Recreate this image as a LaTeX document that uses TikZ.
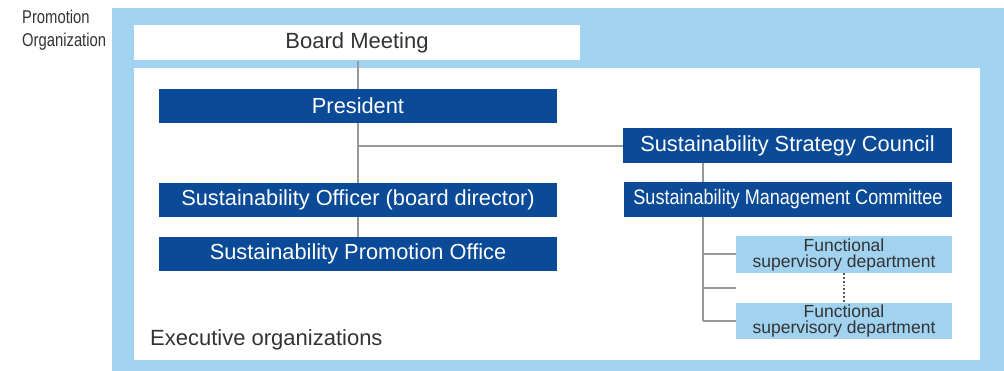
\documentclass[tikz,border=0pt]{standalone}
\usepackage{fontspec}
\setmainfont{Liberation Sans}
\newfontfamily\condfont[FakeStretch=0.86]{Liberation Sans}
\newfontfamily\narrowfont[FakeStretch=0.8]{Liberation Sans}
\definecolor{dblue}{HTML}{0A4A96}
\definecolor{lblue}{HTML}{A1D2F0}
\definecolor{lgray}{HTML}{999999}
\definecolor{tgray}{HTML}{333333}
\begin{document}
\begin{tikzpicture}[x=1pt,y=-1pt,
  darkbox/.style={fill=dblue,text=white,inner sep=0pt,font=\fontsize{21.8}{24}\selectfont},
  lightbox/.style={fill=lblue,text=tgray,inner sep=0pt,align=center,font=\fontsize{17.5}{16}\selectfont},
  conn/.style={draw=lgray,line width=2pt}]
\useasboundingbox (0,0) rectangle (1004,371);
\fill[lblue] (112,8) rectangle (1004,371);
\fill[white] (134,68) rectangle (980,360);
\node[fill=white,text=tgray,inner sep=0pt,minimum width=446pt,minimum height=35pt,font=\fontsize{22}{24}\selectfont] (board) at (357,43) {Board Meeting};
\node[darkbox,minimum width=398pt,minimum height=34pt] (pres) at (358,106) {President};
\node[darkbox,minimum width=398pt,minimum height=34pt] (officer) at (358,200) {Sustainability Officer (board director)};
\node[darkbox,minimum width=398pt,minimum height=34pt] (office) at (358,254) {Sustainability Promotion Office};
\node[darkbox,minimum width=329pt,minimum height=35pt] (council) at (787.5,145.5) {Sustainability Strategy Council};
\node[darkbox,minimum width=328pt,minimum height=35pt,font=\condfont\fontsize{21}{24}\selectfont] (comm) at (788,199.5) {Sustainability Management Committee};
\node[lightbox,minimum width=216pt,minimum height=37pt] (f1) at (844,254.5) {Functional\\supervisory department};
\node[lightbox,minimum width=216pt,minimum height=36pt] (f2) at (844,321) {Functional\\supervisory department};
\node[anchor=north west,align=left,text=tgray,inner sep=0pt,font=\narrowfont\fontsize{18.5}{23}\selectfont] (promo) at (22,10) {Promotion\\Organization};
\node[anchor=base west,text=tgray,inner sep=0pt,font=\fontsize{22}{24}\selectfont] (exec) at (150,345) {Executive organizations};
\coordinate (mid) at (736,288);
\coordinate (jl) at (358,146);
\coordinate (jr) at (703,321);
% connectors
\draw[conn] (board.south -| pres.north) -- (pres.north);
\draw[conn] (pres.south) -- (officer.north);
\draw[conn] (officer.south) -- (office.north);
\draw[conn] (jl) -- (council.west |- jl);
\draw[conn] (council.south -| jr) -- (comm.north -| jr);
\draw[conn] (comm.south -| jr) -- (jr);
\draw[conn] (jr |- f1.west) -- (f1.west);
\draw[conn] (jr |- mid) -- (mid);
\draw[conn] (jr) -- (f2.west);
\draw[draw=tgray!80,line width=1.8pt,dotted] (f1.south) -- (f2.north);
\end{tikzpicture}
\end{document}
